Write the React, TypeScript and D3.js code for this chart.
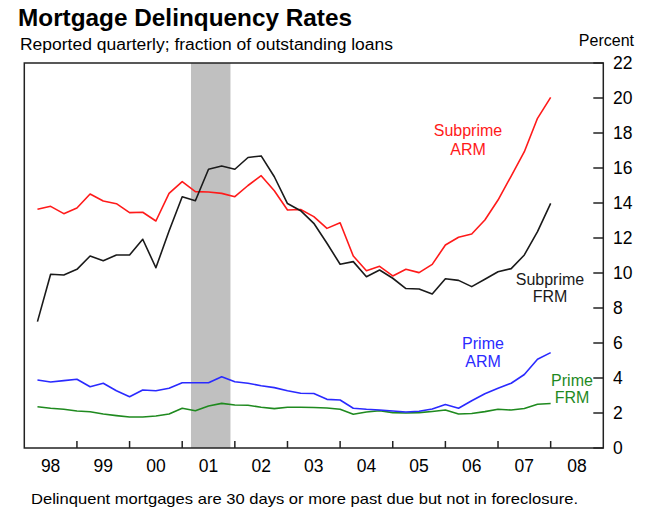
import React from "react";
import * as d3 from "d3";

const quarters = [
  "1998Q1","1998Q2","1998Q3","1998Q4","1999Q1","1999Q2","1999Q3","1999Q4",
  "2000Q1","2000Q2","2000Q3","2000Q4","2001Q1","2001Q2","2001Q3","2001Q4",
  "2002Q1","2002Q2","2002Q3","2002Q4","2003Q1","2003Q2","2003Q3","2003Q4",
  "2004Q1","2004Q2","2004Q3","2004Q4","2005Q1","2005Q2","2005Q3","2005Q4",
  "2006Q1","2006Q2","2006Q3","2006Q4","2007Q1","2007Q2","2007Q3","2007Q4",
];

const subprimeARM = [
  13.64, 13.81, 13.39, 13.71, 14.51, 14.11, 13.96, 13.45,
  13.47, 12.97, 14.55, 15.22, 14.65, 14.63, 14.55, 14.36,
  15.0, 15.56, 14.7, 13.6, 13.63, 13.22, 12.55, 12.87,
  10.97, 10.13, 10.38, 9.83, 10.21, 10.02, 10.49, 11.6,
  12.04, 12.23, 13.03, 14.17, 15.54, 16.93, 18.84, 20.04,
];

const subprimeFRM = [
  7.22, 9.93, 9.89, 10.21, 10.97, 10.7, 11.03, 11.03,
  11.93, 10.3, 12.4, 14.36, 14.13, 15.93, 16.11, 15.93,
  16.6, 16.69, 15.5, 13.97, 13.56, 12.84, 11.7, 10.5,
  10.65, 9.79, 10.17, 9.7, 9.11, 9.09, 8.8, 9.67,
  9.58, 9.22, 9.64, 10.07, 10.25, 11.03, 12.36, 13.98,
];

const primeARM = [
  3.89, 3.77, 3.85, 3.93, 3.5, 3.7, 3.27, 2.93,
  3.31, 3.27, 3.41, 3.73, 3.73, 3.73, 4.07, 3.79,
  3.7, 3.56, 3.45, 3.27, 3.13, 3.11, 2.78, 2.74,
  2.27, 2.21, 2.17, 2.11, 2.06, 2.1, 2.23, 2.48,
  2.27, 2.7, 3.1, 3.42, 3.7, 4.2, 5.07, 5.45,
];

const primeFRM = [
  2.36, 2.27, 2.21, 2.11, 2.07, 1.94, 1.85, 1.77,
  1.77, 1.83, 1.94, 2.27, 2.13, 2.4, 2.55, 2.46,
  2.44, 2.33, 2.25, 2.33, 2.33, 2.31, 2.29, 2.21,
  1.93, 2.06, 2.13, 2.02, 2.0, 2.02, 2.09, 2.17,
  1.94, 1.97, 2.08, 2.21, 2.17, 2.26, 2.5, 2.54,
];

const yearLabels = ["98", "99", "00", "01", "02", "03", "04", "05", "06", "07", "08"];
const yTicks = [0, 2, 4, 6, 8, 10, 12, 14, 16, 18, 20, 22];
const recession = ["2001-03", "2001-12"];

const FONT = "'Liberation Sans', Arial, Helvetica, sans-serif";

function quarterToYear(q: string): number {
  const y = +q.slice(0, 4);
  const n = +q.slice(5);
  return y + n * 0.25; // end of quarter
}
function monthToYear(m: string): number {
  const [y, mo] = m.split("-").map(Number);
  return y + (mo - 1) / 12;
}

export default function App() {
  const W = 648, H = 509;
  const left = 24.3, right = 603.3, top = 63, bottom = 448;
  const x = d3.scaleLinear().domain([1998, 2009]).range([left, right]);
  const y = d3.scaleLinear().domain([0, 22]).range([bottom, top]);

  const mk = (vals: number[]) =>
    d3.line<number>()
      .x((_, i) => x(quarterToYear(quarters[i])))
      .y((v) => y(v))(vals) || "";

  const series = [
    { vals: primeFRM, color: "#1f8a1f" },
    { vals: primeARM, color: "#2a2aff" },
    { vals: subprimeARM, color: "#ff1a1a" },
    { vals: subprimeFRM, color: "#1a1a1a" },
  ];

  const labels = [
    { lines: ["Subprime", "ARM"], x: 468, y: [136, 155], color: "#ff1a1a" },
    { lines: ["Subprime", "FRM"], x: 550, y: [285, 302], color: "#1a1a1a" },
    { lines: ["Prime", "ARM"], x: 483, y: [349, 367], color: "#2a2aff" },
    { lines: ["Prime", "FRM"], x: 572, y: [386, 403], color: "#1f8a1f" },
  ];

  const startYear = 1998;

  return (
    <svg
      width={W}
      height={H}
      style={{ position: "absolute", left: 0, top: 0, background: "#fff" }}
      fontFamily={FONT}
    >
      <rect x={0} y={0} width={W} height={H} fill="#fff" />
      <text x={18} y={26} fontSize={24} fontWeight="bold" fill="#000" textLength={334} lengthAdjust="spacingAndGlyphs">
        Mortgage Delinquency Rates
      </text>
      <text x={20} y={50} fontSize={16} fill="#000" textLength={373} lengthAdjust="spacingAndGlyphs">
        Reported quarterly; fraction of outstanding loans
      </text>
      <text x={634} y={46} fontSize={16} fill="#000" textAnchor="end">
        Percent
      </text>

      {/* recession band */}
      <rect
        x={x(monthToYear(recession[0]))}
        y={top}
        width={x(monthToYear(recession[1])) - x(monthToYear(recession[0]))}
        height={bottom - top}
        fill="#c0c0c0"
      />

      {series.map((s, i) => (
        <path key={i} d={mk(s.vals)} fill="none" stroke={s.color} strokeWidth={1.6} strokeLinejoin="round" />
      ))}

      {/* frame */}
      <rect x={left} y={top} width={right - left} height={bottom - top} fill="none" stroke="#222" strokeWidth={1.5} />

      {/* x ticks */}
      {yearLabels.map((lab, i) => {
        const yr = startYear + i;
        return (
          <g key={lab}>
            {i > 0 && (
              <line x1={x(yr)} x2={x(yr)} y1={bottom} y2={bottom - 7} stroke="#222" strokeWidth={1.5} />
            )}
            <text x={x(yr + 0.5)} y={472} fontSize={17.5} textAnchor="middle" fill="#000">
              {lab}
            </text>
          </g>
        );
      })}

      {/* y ticks */}
      {yTicks.map((t) => (
        <g key={t}>
          <line x1={right} x2={right - 10} y1={y(t)} y2={y(t)} stroke="#222" strokeWidth={1.5} />
          <text x={613} y={y(t) + 6.3} fontSize={17.5} fill="#000">
            {t}
          </text>
        </g>
      ))}

      {labels.map((l, i) => (
        <g key={i}>
          {l.lines.map((ln, j) => (
            <text key={j} x={l.x} y={l.y[j]} fontSize={16} textAnchor="middle" fill={l.color}>
              {ln}
            </text>
          ))}
        </g>
      ))}

      <text x={31} y={504} fontSize={15} fill="#000" textLength={547} lengthAdjust="spacingAndGlyphs">
        Delinquent mortgages are 30 days or more past due but not in foreclosure.
      </text>
    </svg>
  );
}
